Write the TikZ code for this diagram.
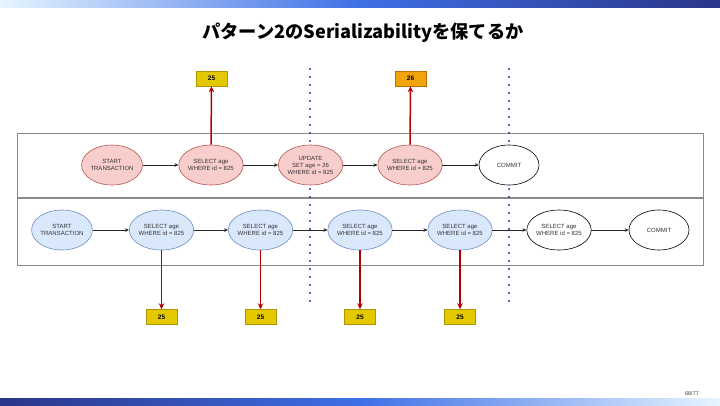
\documentclass[tikz,border=0pt]{standalone}
\usepackage{fontspec}
\setmainfont{Liberation Sans}
\newfontfamily\cjk{Noto Sans CJK JP}
\usetikzlibrary{shapes.geometric,arrows.meta}
\definecolor{pinkf}{HTML}{F8CECC}
\definecolor{pinkd}{HTML}{B85450}
\definecolor{bluef}{HTML}{DAE8FC}
\definecolor{blued}{HTML}{6C8EBF}
\definecolor{yelf}{HTML}{E3C800}
\definecolor{yeld}{HTML}{B09500}
\definecolor{orgf}{HTML}{F0A30A}
\definecolor{orgd}{HTML}{BD7000}
\definecolor{redar}{HTML}{B20000}
\definecolor{navy}{HTML}{24309A}
\definecolor{lanegray}{HTML}{8A8A8A}
\definecolor{txtgray}{HTML}{333333}
\definecolor{barlight}{HTML}{E6F5FF}
\definecolor{barmid}{HTML}{3F6FE6}
\definecolor{bardark}{HTML}{2A3588}
\begin{document}
\begin{tikzpicture}[x=1pt,y=-1pt,
  ev/.style={ellipse,minimum width=60pt,minimum height=40pt,inner sep=0pt,align=center,
    font=\fontsize{6}{7}\selectfont,text=txtgray,line width=0.6pt},
  pinkev/.style={ev,fill=pinkf,draw=pinkd},
  blueev/.style={ev,fill=bluef,draw=blued},
  whiteev/.style={ev,fill=white,draw=black},
  valbox/.style={rectangle,minimum width=31pt,minimum height=15pt,inner sep=0pt,
    font=\fontsize{6.5}{7}\selectfont\bfseries,line width=0.5pt},
  yelbox/.style={valbox,fill=yelf,draw=yeld},
  orgbox/.style={valbox,fill=orgf,draw=orgd},
  flow/.style={draw=black!85,line width=0.6pt,-{Stealth[length=4pt,width=3.5pt]}},
  readar/.style={draw=redar,line width=1.5pt,-{Stealth[length=6pt,width=5.5pt]}},
  sep/.style={draw=navy,line width=2.1pt,dash pattern=on 0pt off 8pt,line cap=round},
  lane/.style={draw=lanegray,line width=0.9pt}
]
\useasboundingbox (0,0) rectangle (720,405);
% bars
\shade[left color=barlight,right color=barmid] (0,0) rectangle (360,7);
\shade[left color=barmid,right color=bardark] (360,0) rectangle (720,7);
\shade[left color=bardark,right color=barmid] (0,398) rectangle (360,405);
\shade[left color=barmid,right color=barlight] (360,398) rectangle (720,405);
% title
\node[font=\cjk\bfseries\fontsize{18.2}{21}\selectfont] (title) at (363,33) {パターン2のSerializabilityを保てるか};
\node[font=\fontsize{5.5}{6}\selectfont,text=black!75] (page) at (692,394) {68/77};
% lanes
\draw[lane] (17,133) rectangle (703,197.5);
\draw[lane] (17,198.5) rectangle (703,265);
% separators
\coordinate (d1t) at (310,69); \coordinate (d1b) at (310,308);
\coordinate (d2t) at (509,69); \coordinate (d2b) at (509,308);
\draw[sep] (d1t) -- (d1b);
\draw[sep] (d2t) -- (d2b);
% top lane
\node[pinkev] (tS) at (112,165) {START\\TRANSACTION};
\node[pinkev] (tA) at (211,165) {SELECT age\\WHERE id = 825};
\node[pinkev] (tU) at (310.5,165) {UPDATE\\SET age = 26\\WHERE id = 825};
\node[pinkev] (tB) at (410,165) {SELECT age\\WHERE id = 825};
\node[whiteev] (tC) at (509,165) {COMMIT};
% bottom lane
\node[blueev] (bS) at (62,230) {START\\TRANSACTION};
\node[blueev] (b1) at (161.5,230) {SELECT age\\WHERE id = 825};
\node[blueev] (b2) at (260.5,230) {SELECT age\\WHERE id = 825};
\node[blueev] (b3) at (360,230) {SELECT age\\WHERE id = 825};
\node[blueev] (b4) at (460,230) {SELECT age\\WHERE id = 825};
\node[whiteev] (b5) at (559,230) {SELECT age\\WHERE id = 825};
\node[whiteev] (bC) at (659,230) {COMMIT};
% flows
\draw[flow] (tS) -- (tA);
\draw[flow] (tA) -- (tU);
\draw[flow] (tU) -- (tB);
\draw[flow] (tB) -- (tC);
\draw[flow] (bS) -- (b1);
\draw[flow] (b1) -- (b2);
\draw[flow] (b2) -- (b3);
\draw[flow] (b3) -- (b4);
\draw[flow] (b4) -- (b5);
\draw[flow] (b5) -- (bC);
% value boxes
\node[yelbox] (v1) at (211.5,78.5) {25};
\node[orgbox] (v2) at (410.5,78.5) {26};
\node[yelbox] (w1) at (161.5,317) {25};
\node[yelbox] (w2) at (260.5,317) {25};
\node[yelbox] (w3) at (360,317) {25};
\node[yelbox] (w4) at (460,317) {25};
% read arrows
\draw[readar] (tA.north) -- (v1.south);
\draw[readar] (tB.north) -- (v2.south);
\draw[readar] (b1.south) -- (w1.north);
\draw[readar] (b2.south) -- (w2.north);
\draw[readar] (b3.south) -- (w3.north);
\draw[readar] (b4.south) -- (w4.north);
\end{tikzpicture}
\end{document}
